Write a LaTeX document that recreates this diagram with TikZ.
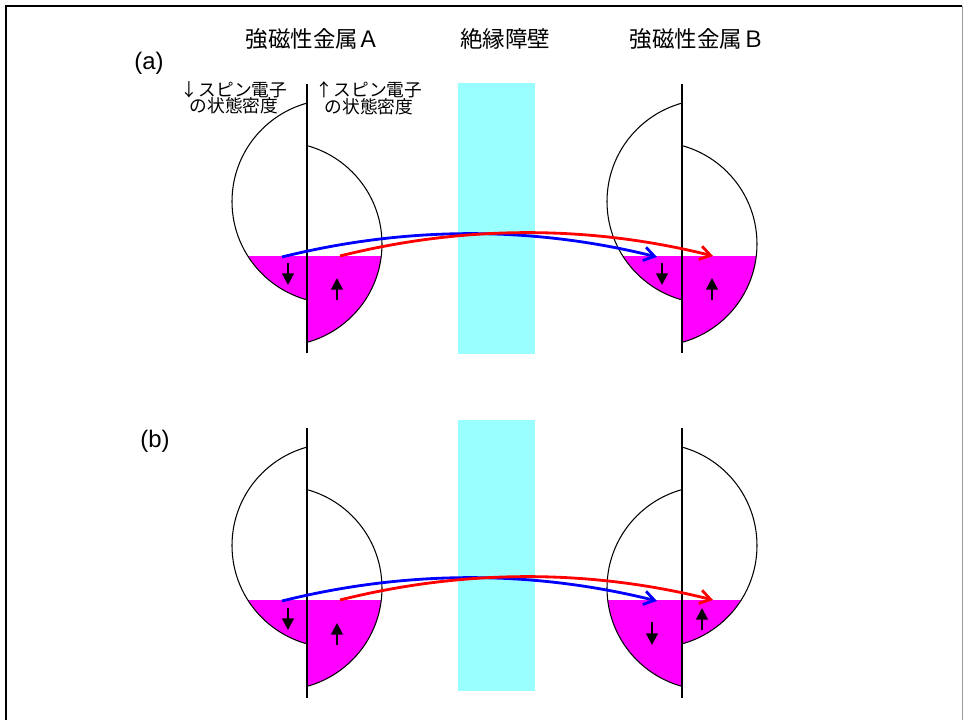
\documentclass[tikz,border=0pt]{standalone}
\usepackage{fontspec}
\setmainfont{Liberation Sans}
\newfontfamily\jpfont{Noto Sans CJK JP}
\usetikzlibrary{arrows.meta, positioning}
\definecolor{cbarrier}{HTML}{99FFFF}
\definecolor{cfilled}{HTML}{FF00FF}
\definecolor{cred}{HTML}{FF0000}
\definecolor{cblue}{HTML}{0000FF}
\tikzset{
  every picture/.style={line width=0.7pt},
  axisline/.style={draw=black, line width=1.4pt},
  dosline/.style={draw=black, line width=0.75pt},
  spin/.style={-{Triangle[length=2.9mm, width=2.9mm]}, line width=1.5pt},
  tunnel/.style={-{Straight Barb[length=2.6mm, width=3.4mm]}, line width=2pt},
  title/.style={font=\jpfont\fontsize{16}{18}\selectfont, inner sep=0pt},
  note/.style={font=\jpfont\fontsize{12.6}{11.8}\selectfont, align=center, inner sep=0pt},
  panel/.style={font=\fontsize{17}{19}\selectfont, inner sep=0pt},
}
% density of states half: axis x, centre y, Fermi level y, side (-1 left, 1 right)
\newcommand{\dos}[4]{%
  \begin{scope}
    \clip (#1,#3) rectangle ++(#4*90,-130);
    \fill[cfilled] ({#1-(#4)*27},#2) circle[radius=102];
  \end{scope}
  \begin{scope}
    \clip (#1,#2-110) rectangle ++(#4*90,220);
    \draw[dosline] ({#1-(#4)*27},#2) circle[radius=102];
  \end{scope}}

\begin{document}
\begin{tikzpicture}[x=0.025cm, y=0.025cm]
  \useasboundingbox (0,0) rectangle (963,720);
  \draw[line width=1.4pt] (6,0) -- (6,714) -- (962,714);
  \draw[black!40, line width=0.5pt] (962,714) -- (962,0);

  % headings
  \node[title] (metalA) at (313,681) {強磁性金属Ａ};
  \node[title] (barrier) at (505,681) {絶縁障壁};
  \node[title] (metalB) at (697,681) {強磁性金属Ｂ};
  \node[note] (dnlabel) at (234,622) {↓スピン電子\\の状態密度};
  \node[note] (uplabel) at (369,622) {↑スピン電子\\の状態密度};

  % (a) parallel
  \node[panel] (pa) at (149,657) {(a)};
  \fill[cbarrier] (458,366) rectangle (535,637);
  \dos{307}{518.5}{463}{-1}
  \dos{307}{476}{463}{1}
  \dos{682}{518.5}{463}{-1}
  \dos{682}{476}{463}{1}
  \draw[axisline] (307,367) -- (307,636);
  \draw[axisline] (682,367) -- (682,636);
  \draw[spin] (288,457) -- (288,435);
  \draw[spin] (337,420) -- (337,442);
  \draw[spin] (662,457) -- (662,435);
  \draw[spin] (712,420) -- (712,442);
  \coordinate (a-dn-in) at (282,463);
  \coordinate (a-dn-out) at (657,463);
  \coordinate (a-up-in) at (340,464);
  \coordinate (a-up-out) at (713,464);
  \draw[tunnel, cblue] (a-dn-in) .. controls +(125,31) and +(-125,31) .. (a-dn-out);
  \draw[tunnel, cred] (a-up-in) .. controls +(124,31) and +(-124,31) .. (a-up-out);

  % (b) antiparallel
  \node[panel] (pb) at (155,279) {(b)};
  \fill[cbarrier] (458,29) rectangle (535,300);
  \dos{307}{174.5}{119}{-1}
  \dos{307}{132}{119}{1}
  \dos{682}{132}{119}{-1}
  \dos{682}{174.5}{119}{1}
  \draw[axisline] (307,22) -- (307,292);
  \draw[axisline] (682,22) -- (682,292);
  \draw[spin] (288,112) -- (288,90);
  \draw[spin] (337,75) -- (337,97);
  \draw[spin] (652,98) -- (652,75);
  \draw[spin] (702,90) -- (702,112);
  \coordinate (b-dn-in) at (282,119);
  \coordinate (b-dn-out) at (657,119);
  \coordinate (b-up-in) at (340,120);
  \coordinate (b-up-out) at (713,120);
  \draw[tunnel, cblue] (b-dn-in) .. controls +(125,31) and +(-125,31) .. (b-dn-out);
  \draw[tunnel, cred] (b-up-in) .. controls +(124,31) and +(-124,31) .. (b-up-out);
\end{tikzpicture}
\end{document}
